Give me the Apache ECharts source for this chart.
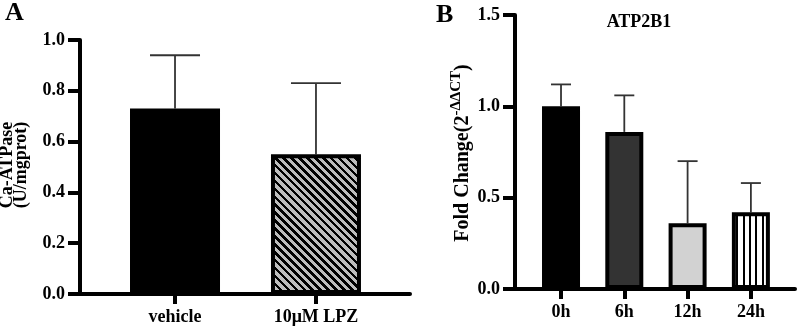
<!DOCTYPE html>
<html>
<head>
<meta charset="utf-8">
<script src="https://cdn.jsdelivr.net/npm/echarts@6/dist/echarts.min.js"></script>
<style>
html,body{margin:0;padding:0;background:#fff;}
#c{width:797px;height:331px;}
</style>
</head>
<body>
<div id="c"></div>
<script>
// ---- Data ----
const categoriesA = ['vehicle', '10μM LPZ'];
const meansA = [0.73, 0.55];
const errorsA = [0.21, 0.28];
const yTicksA = [0.0, 0.2, 0.4, 0.6, 0.8, 1.0];

const categoriesB = ['0h', '6h', '12h', '24h'];
const meansB = [1.00, 0.86, 0.36, 0.42];
const errorsB = [0.12, 0.20, 0.34, 0.16];
const yTicksB = [0.0, 0.5, 1.0, 1.5];

const yNameA = 'Ca-ATPase\n(U/mgprot)';
const yNameB = ['Fold Change(2', '-ΔΔCT', ')'];
const titleB = 'ATP2B1';

const fontFam = '"Liberation Serif", "DejaVu Serif", serif';

// ---- Striped fills built from linear gradients with hard stops ----
function stripeGradient(x, y, x2, y2, periods, colA, colB, fracB) {
  const stops = [];
  for (let k = 0; k < periods; k++) {
    const s = k / periods, m = (k + 1 - fracB) / periods, e = (k + 1) / periods;
    stops.push({ offset: s, color: colA }, { offset: m, color: colA }, { offset: m, color: colB }, { offset: e, color: colB });
  }
  return { type: 'linear', x: x, y: y, x2: x2, y2: y2, colorStops: stops, global: false };
}
function diagHatch(wPx, hPx) {
  // "\" stripes: gradient runs bottom-left -> top-right at 45 degrees in pixel space
  const L = (wPx + hPx) / 2;
  const periods = Math.max(4, Math.round(((wPx + hPx) / Math.SQRT2) / 5.66));
  return stripeGradient(0, 1, L / wPx, 1 - L / hPx, periods, '#bdbdbd', '#000', 0.45);
}
const vertStripes = stripeGradient(0, 0, 1, 0, 6, '#fff', '#000', 0.32);

function makeStylesA(hatch) {
  return [
    { color: '#000', borderColor: '#000', borderWidth: 4 },
    { color: hatch, borderColor: '#000', borderWidth: 4 }
  ];
}
const barStylesB = [
  { color: '#000', borderColor: '#000', borderWidth: 4 },
  { color: '#333', borderColor: '#000', borderWidth: 4 },
  { color: '#d2d2d2', borderColor: '#000', borderWidth: 4 },
  { color: vertStripes, borderColor: '#000', borderWidth: 4 }
];

function barData(means, styles) {
  return means.map((v, i) => ({ value: [i + 1, v], itemStyle: styles[i] }));
}
function errData(means, errs) {
  return means.map((v, i) => [i + 1, v, v + errs[i]]);
}
function errRender(capHalf) {
  return function (params, api) {
    const x = api.value(0);
    const base = api.coord([x, api.value(1)]);
    const top = api.coord([x, api.value(2)]);
    const st = { stroke: '#333', lineWidth: 1.8 };
    return {
      type: 'group',
      children: [
        { type: 'line', shape: { x1: base[0], y1: base[1], x2: top[0], y2: top[1] }, style: st },
        { type: 'line', shape: { x1: top[0] - capHalf, y1: top[1], x2: top[0] + capHalf, y2: top[1] }, style: st }
      ]
    };
  };
}

function lineSt() { return { color: '#000', width: 4 }; }
function labelSt(extra) {
  return Object.assign({ color: '#000', fontFamily: fontFam, fontWeight: 'bold', fontSize: 18 }, extra);
}

const barWidthA = 90;

function buildOption(hatch) {
  return {
    animation: false,
    title: [
      { text: 'A', left: 0, top: -5, textStyle: { fontFamily: fontFam, fontWeight: 'bold', fontSize: 26, color: '#000' } },
      { text: 'B', left: 431, top: -3, textStyle: { fontFamily: fontFam, fontWeight: 'bold', fontSize: 26, color: '#000' } },
      { text: titleB, left: 634, top: 8, textAlign: 'center', textStyle: { fontFamily: fontFam, fontWeight: 'bold', fontSize: 18, color: '#000' } }
    ],
    graphic: {
      elements: [
        {
          type: 'text', x: 14, y: 165, rotation: Math.PI / 2,
          style: { text: yNameA, fill: '#000', fontFamily: fontFam, fontWeight: 'bold', fontSize: 18, lineHeight: 14, align: 'center', verticalAlign: 'middle' }
        },
        {
          type: 'text', x: 461, y: 153, rotation: Math.PI / 2,
          style: {
            text: '{a|' + yNameB[0] + '}{s|' + yNameB[1] + '}{a|' + yNameB[2] + '}',
            fill: '#000', align: 'center', verticalAlign: 'middle',
            rich: {
              a: { fontFamily: fontFam, fontWeight: 'bold', fontSize: 20, fill: '#000', verticalAlign: 'bottom', lineHeight: 24 },
              s: { fontFamily: fontFam, fontWeight: 'bold', fontSize: 15, fill: '#000', verticalAlign: 'top', lineHeight: 24 }
            }
          }
        }
      ]
    },
    grid: [
      { left: 80, top: 40, width: 330, height: 254 },
      { left: 515, top: 15, width: 280, height: 274 }
    ],
    xAxis: [
      {
        gridIndex: 0, type: 'value', min: 0.326, max: 2.667, splitLine: { show: false },
        axisLine: { show: true, lineStyle: lineSt() },
        axisTick: { show: true, customValues: [1, 2], length: 10, lineStyle: lineSt() },
        axisLabel: labelSt({ customValues: [1, 2], margin: 14, formatter: v => categoriesA[Math.round(v) - 1] })
      },
      {
        gridIndex: 1, type: 'value', min: 0.273, max: 4.697, splitLine: { show: false },
        axisLine: { show: true, lineStyle: lineSt() },
        axisTick: { show: true, customValues: [1, 2, 3, 4], length: 10, lineStyle: lineSt() },
        axisLabel: labelSt({ customValues: [1, 2, 3, 4], margin: 14, formatter: v => categoriesB[Math.round(v) - 1] })
      }
    ],
    yAxis: [
      {
        gridIndex: 0, type: 'value', min: yTicksA[0], max: yTicksA[yTicksA.length - 1], interval: 0.2, splitLine: { show: false },
        axisLine: { show: true, lineStyle: lineSt() },
        axisTick: { show: true, length: 12, lineStyle: lineSt() },
        axisLabel: labelSt({ margin: 15, formatter: v => v.toFixed(1) })
      },
      {
        gridIndex: 1, type: 'value', min: yTicksB[0], max: yTicksB[yTicksB.length - 1], interval: 0.5, splitLine: { show: false },
        axisLine: { show: true, lineStyle: lineSt() },
        axisTick: { show: true, length: 12, lineStyle: lineSt() },
        axisLabel: labelSt({ margin: 15, formatter: v => v.toFixed(1) })
      }
    ],
    series: [
      { type: 'custom', xAxisIndex: 0, yAxisIndex: 0, renderItem: errRender(25), data: errData(meansA, errorsA), z: 1 },
      { type: 'bar', xAxisIndex: 0, yAxisIndex: 0, barWidth: barWidthA, data: barData(meansA, makeStylesA(hatch)), z: 2 },
      { type: 'custom', xAxisIndex: 1, yAxisIndex: 1, renderItem: errRender(10), data: errData(meansB, errorsB), z: 1 },
      { type: 'bar', xAxisIndex: 1, yAxisIndex: 1, barWidth: 38, data: barData(meansB, barStylesB), z: 2 }
    ]
  };
}

const chart = echarts.init(document.getElementById('c'));
let hPx = 140;
chart.setOption(buildOption(diagHatch(barWidthA, hPx)));
try {
  const p0 = chart.convertToPixel({ gridIndex: 0 }, [2, 0]);
  const p1 = chart.convertToPixel({ gridIndex: 0 }, [2, meansA[1]]);
  if (p0 && p1 && isFinite(p0[1] - p1[1]) && (p0[1] - p1[1]) > 5) {
    hPx = p0[1] - p1[1];
    chart.setOption(buildOption(diagHatch(barWidthA, hPx)));
  }
} catch (e) { /* keep default hatch */ }
</script>
</body>
</html>
